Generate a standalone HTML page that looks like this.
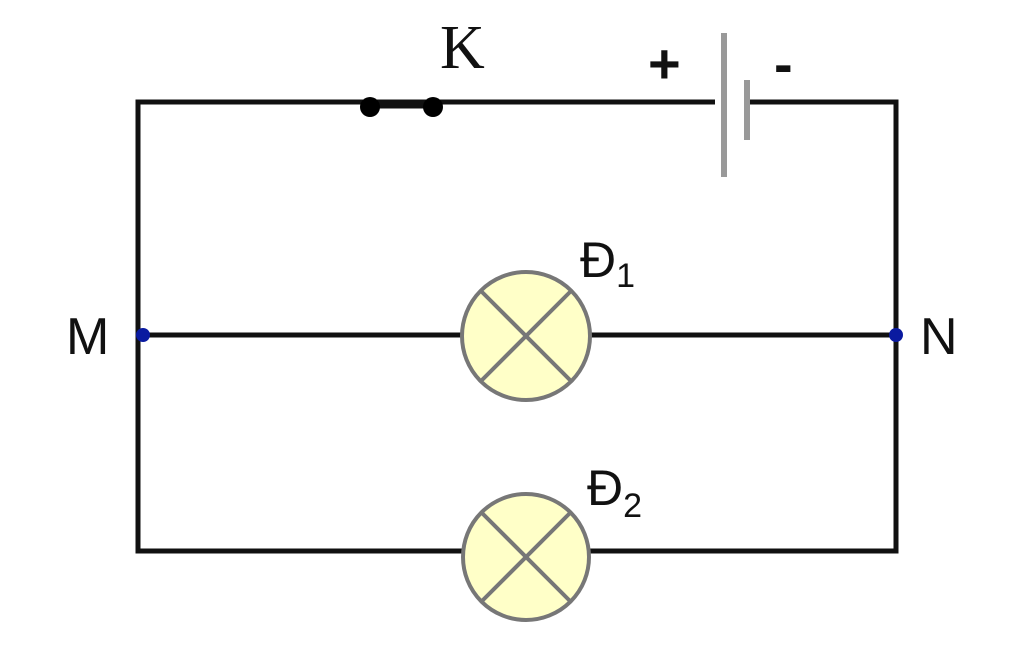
<!DOCTYPE html>
<html><head><style>html,body{margin:0;padding:0;background:#fff;}</style></head>
<body>
<svg width="1024" height="641" viewBox="0 0 1024 641" xmlns="http://www.w3.org/2000/svg">
<g stroke="#111" stroke-width="5" fill="none">
<polyline points="715,102 138,102 138,551 896,551 896,102 750,102"/>
<line x1="138" y1="335" x2="896" y2="335"/>
<line x1="370" y1="106" x2="433" y2="106"/>
</g>
<circle cx="370" cy="107" r="10" fill="#000"/>
<circle cx="433" cy="107" r="10" fill="#000"/>
<line x1="724" y1="33" x2="724" y2="177" stroke="#999" stroke-width="6"/>
<line x1="747" y1="80" x2="747" y2="140" stroke="#999" stroke-width="6"/>
<g stroke="#777" stroke-width="4" fill="#ffffc8">
<circle cx="526" cy="336" r="64"/>
<circle cx="526" cy="557" r="63"/>
</g>
<g stroke="#777" stroke-width="4">
<line x1="481" y1="291" x2="571" y2="381"/><line x1="571" y1="291" x2="481" y2="381"/>
<line x1="481" y1="512" x2="571" y2="602"/><line x1="571" y1="512" x2="481" y2="602"/>
</g>
<circle cx="143" cy="335" r="7" fill="#0a1aa0"/>
<circle cx="896" cy="335" r="7" fill="#0a1aa0"/>
<g font-family="Liberation Sans, sans-serif" fill="#111">
<text x="440" y="68" font-family="Liberation Serif, serif" font-size="62">K</text>
<text x="648" y="83" font-size="56" font-weight="bold">+</text>
<text x="774" y="83" font-size="56" font-weight="bold">-</text>
<text x="66" y="354" font-size="52">M</text>
<text x="920" y="354" font-size="52">N</text>
<text x="580" y="277" font-size="50">Đ<tspan font-size="34" dy="10">1</tspan></text>
<text x="587" y="505" font-size="50">Đ<tspan font-size="34" dy="12">2</tspan></text>
</g>
</svg>
</body></html>
